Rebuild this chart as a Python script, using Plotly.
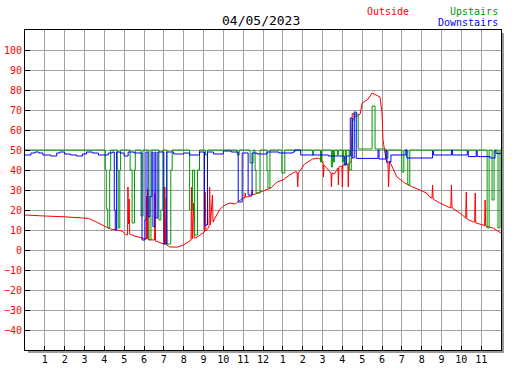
import plotly.graph_objects as go

# ---------------- data ----------------
hour_ticks = list(range(1, 24))
hour_labels = ["1", "2", "3", "4", "5", "6", "7", "8", "9", "10", "11", "12",
               "1", "2", "3", "4", "5", "6", "7", "8", "9", "10", "11"]
temp_ticks = [-40, -30, -20, -10, 0, 10, 20, 30, 40, 50, 60, 70, 80, 90, 100]

outside_t = [0.00, 0.90, 1.00, 2.00, 3.00, 3.20, 3.50, 3.80, 4.00, 4.30, 4.60, 4.90,
             5.10, 5.17, 5.19, 5.22, 5.25, 5.28, 5.50, 6.00, 6.12, 6.14, 6.17, 6.19,
             6.22, 6.50, 6.53, 6.55, 6.58, 7.00, 7.03, 7.05, 7.08, 7.12, 7.15, 7.30,
             7.70, 8.00, 8.30, 8.37, 8.40, 8.43, 8.50, 8.53, 8.60, 9.00, 9.05, 9.08,
             9.12, 9.28, 9.31, 9.35, 9.45, 9.48, 9.60, 9.80, 10.00, 10.30, 10.60, 10.80,
             11.00, 11.08, 11.10, 11.13, 11.43, 11.45, 11.48, 11.60, 12.00, 12.40, 12.70,
             13.00, 13.35, 13.60, 13.72, 13.75, 13.78, 14.10, 14.50, 14.80, 15.00, 15.03,
             15.05, 15.08, 15.30, 15.43, 15.45, 15.48, 15.60, 15.78, 15.80, 15.83, 15.98,
             16.00, 16.03, 16.28, 16.30, 16.33, 16.45, 16.50, 16.70, 16.90, 17.00, 17.30,
             17.50, 17.70, 17.90, 18.00, 18.05, 18.15, 18.25, 18.30, 18.33, 18.38, 18.75,
             19.15, 19.55, 20.25, 20.40, 20.52, 20.55, 20.58, 20.90, 21.47, 21.50, 21.53,
             21.55, 22.05, 22.22, 22.25, 22.28, 22.60, 22.67, 22.70, 22.73, 23.10, 23.17,
             23.20, 23.23, 23.60, 24.00]
outside_v = [17.5, 17.3, 17.0, 16.6, 16.2, 15.8, 14.5, 13.0, 12.0, 10.5, 10.0, 9.5,
             7.5, 7.5, 31.5, 13.0, 25.5, 8.0, 7.0, 5.5, 5.5, 27.0, 5.5, 30.5,
             5.2, 5.0, 5.0, 28.5, 4.5, 3.0, 3.0, 31.5, 3.0, 26.0, 2.5, 1.5,
             1.5, 2.5, 4.5, 5.0, 31.5, 5.5, 23.5, 6.0, 6.0, 8.5, 9.0, 29.0,
             9.5, 11.5, 31.5, 12.5, 27.5, 14.0, 16.0, 20.0, 22.0, 23.5, 23.0, 24.5,
             26.0, 26.0, 28.5, 26.5, 27.0, 30.0, 27.5, 28.0, 29.5, 31.0, 34.0,
             35.0, 37.5, 39.0, 39.0, 31.5, 38.5, 43.0, 45.5, 46.0, 44.5, 44.0,
             36.5, 42.5, 40.0, 38.5, 31.5, 38.5, 38.0, 41.0, 32.5, 41.5, 42.0,
             31.5, 42.5, 43.0, 31.5, 43.5, 44.0, 68.5, 66.5, 68.0, 73.5, 75.5,
             78.5, 77.5, 76.5, 68.5, 55.0, 48.5, 43.5, 43.5, 31.5, 44.5, 36.5,
             33.5, 31.5, 28.5, 26.5, 26.0, 32.5, 25.5, 23.5, 21.0, 32.5, 21.0,
             21.0, 17.5, 16.0, 29.0, 15.5, 14.0, 14.0, 28.5, 13.5, 12.5, 12.0,
             25.0, 12.0, 11.0, 8.5]

upstairs_t = [0.00, 4.05, 4.10, 4.17, 4.27, 4.32, 4.65, 4.70, 4.78, 4.82, 5.30, 5.40,
              5.52, 5.56, 5.85, 5.95, 6.25, 6.35, 6.75, 6.85, 6.95, 7.15, 7.35, 7.42,
              8.30, 8.45, 8.55, 8.70, 8.80, 9.10, 9.20, 10.70, 10.80, 11.35, 11.50,
              11.60, 11.65, 11.85, 12.20, 12.25, 12.35, 12.95, 13.10, 14.50, 14.55,
              14.90, 14.95, 15.45, 15.50, 15.55, 15.60, 15.75, 15.80, 16.00, 16.05,
              16.15, 16.20, 16.35, 16.45, 16.50, 16.60, 16.80, 17.50, 17.65, 18.20,
              18.30, 18.40, 19.00, 19.10, 19.30, 19.40, 23.30, 23.40, 23.55, 23.65,
              23.85, 23.95, 24.00]
upstairs_v = [50.0, 40.0, 20.5, 11.0, 40.0, 50.0, 40.0, 11.0, 40.0, 50.0, 40.0, 13.5,
              40.0, 50.0, 17.0, 50.0, 5.0, 50.0, 15.0, 20.0, 50.0, 3.0, 40.0, 50.0,
              20.0, 40.0, 7.5, 40.0, 50.0, 47.5, 50.0, 47.5, 50.0, 43.5, 50.0,
              40.0, 28.5, 50.0, 40.0, 31.0, 50.0, 38.5, 50.0, 47.5, 50.0,
              44.0, 50.0, 41.5, 50.0, 44.0, 50.0, 47.5, 50.0, 44.0, 50.0,
              42.5, 50.0, 40.0, 50.0, 65.0, 68.0, 50.5, 72.0, 50.5, 46.0,
              50.0, 50.0, 39.0, 50.0, 32.5, 50.0, 11.0, 50.0, 25.0, 50.0,
              11.0, 50.0, 50.0]

downstairs_t = [0.00, 0.30, 0.50, 0.70, 0.90, 1.30, 1.60, 1.75, 2.00, 2.30, 2.60, 2.90,
                3.10, 3.40, 3.70, 4.20, 4.40, 4.50, 4.55, 4.62, 4.80, 5.00, 5.20, 5.50,
                5.90, 6.05, 6.10, 6.20, 6.30, 6.40, 6.45, 6.55, 6.60, 6.70, 7.00, 7.15,
                7.50, 8.00, 8.30, 8.80, 9.05, 9.20, 9.50, 10.00, 10.40, 10.75, 10.95,
                11.25, 11.45, 11.70, 12.20, 12.80, 13.50, 13.60, 13.90, 15.30, 16.10,
                16.20, 16.40, 16.50, 16.60, 16.70, 17.80, 17.85, 18.20, 18.25, 18.45,
                19.20, 19.25, 20.55, 20.60, 21.50, 21.55, 22.30, 22.35, 22.75, 22.80,
                23.45, 23.70, 23.75, 24.00]
downstairs_v = [47.5, 48.5, 49.0, 48.5, 47.5, 47.0, 48.5, 49.0, 48.0, 47.5, 47.0, 48.0,
                49.0, 48.5, 47.5, 48.5, 49.0, 20.0, 10.0, 49.0, 48.5, 47.0, 49.0, 48.5,
                5.0, 15.0, 49.0, 16.7, 26.7, 49.0, 11.7, 49.0, 16.0, 49.0, 3.0, 49.0,
                48.0, 48.5, 47.5, 49.0, 12.5, 49.0, 48.0, 49.5, 49.0, 24.0, 48.5,
                27.5, 48.5, 48.0, 49.0, 48.5, 49.0, 50.0, 47.5, 47.0, 42.5,
                47.0, 66.0, 46.0, 69.0, 45.8, 50.0, 45.5, 50.0, 44.0, 47.5,
                50.0, 46.0, 49.5, 47.5, 50.0, 47.5, 49.5, 46.7, 49.5, 46.7,
                46.0, 49.5, 48.3, 48.3]

# ---------------- figure ----------------
FONT = "DejaVu Sans Mono"
GREEN = "#009900"

fig = go.Figure()
fig.add_trace(go.Scatter(x=outside_t, y=outside_v, mode="lines", name="Outside",
                         line=dict(color="#ff0000", width=1)))
fig.add_trace(go.Scatter(x=upstairs_t, y=upstairs_v, mode="lines", name="Upstairs",
                         line=dict(color=GREEN, width=1, shape="hv")))
fig.add_trace(go.Scatter(x=downstairs_t, y=downstairs_v, mode="lines", name="Downstairs",
                         line=dict(color="#0000ff", width=1, shape="hv")))

W, H = 476, 320
# drop shadow
fig.add_shape(type="rect", xref="paper", yref="paper", x0=1.0, x1=1 + 3 / W,
              y0=-3 / H, y1=1 - 3 / H, fillcolor="#9a9a9a", line=dict(width=0), layer="below")
fig.add_shape(type="rect", xref="paper", yref="paper", x0=3 / W, x1=1 + 3 / W,
              y0=-3 / H, y1=0, fillcolor="#9a9a9a", line=dict(width=0), layer="below")

fig.add_annotation(text="04/05/2023", xref="paper", yref="paper", x=(261 - 25) / W,
                   y=1 + 10 / H, xanchor="center", yanchor="middle", showarrow=False,
                   font=dict(family=FONT, size=13, color="black"))
fig.add_annotation(text="Outside", xref="paper", yref="paper", x=(411 - 25) / W,
                   y=1 + 19 / H, xanchor="right", yanchor="middle", showarrow=False,
                   font=dict(family=FONT, size=10, color="#ff0000"))
fig.add_annotation(text="Upstairs", xref="paper", yref="paper", x=(500 - 25) / W,
                   y=1 + 19 / H, xanchor="right", yanchor="middle", showarrow=False,
                   font=dict(family=FONT, size=10, color=GREEN))
fig.add_annotation(text="Downstairs", xref="paper", yref="paper", x=(500 - 25) / W,
                   y=1 + 7 / H, xanchor="right", yanchor="middle", showarrow=False,
                   font=dict(family=FONT, size=10, color="#0000ff"))

fig.update_layout(
    width=527, height=370,
    margin=dict(l=25, r=26, t=30, b=20, pad=0, autoexpand=False),
    paper_bgcolor="white", plot_bgcolor="white",
    showlegend=False,
    font=dict(family=FONT, size=10),
)
fig.update_xaxes(range=[0, 24], tickvals=hour_ticks, ticktext=hour_labels,
                 automargin=False,
                 showgrid=True, gridcolor="#a0a0a0", gridwidth=1, zeroline=False,
                 ticks="inside", ticklen=4, tickcolor="black", tickwidth=1,
                 showline=True, linecolor="black", linewidth=1, mirror=True,
                 tickfont=dict(family=FONT, size=10, color="black"))
fig.update_yaxes(range=[-50, 110], tickvals=temp_ticks,
                 automargin=False,
                 showgrid=True, gridcolor="#a0a0a0", gridwidth=1, zeroline=False,
                 ticks="inside", ticklen=5, tickcolor="black", tickwidth=1,
                 showline=True, linecolor="black", linewidth=1, mirror=True,
                 tickfont=dict(family=FONT, size=10, color="#ff0000"))

fig.write_html("out.html",
               config={"displayModeBar": False, "staticPlot": True},
               post_script="document.body.style.margin='0px';document.body.style.overflow='hidden';")
